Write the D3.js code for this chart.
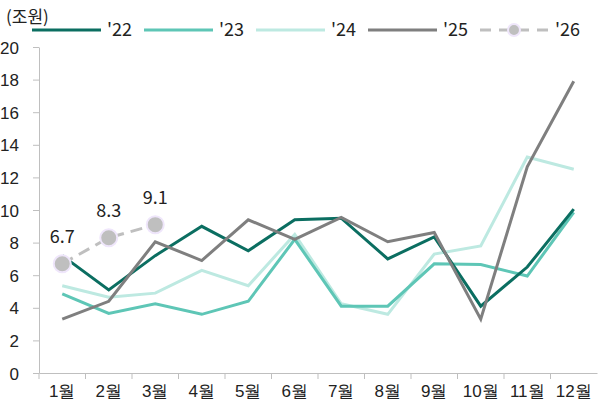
<!DOCTYPE html>
<html>
<head>
<meta charset="utf-8">
<script src="https://cdn.jsdelivr.net/npm/d3@7"></script>
<style>
  body { margin: 0; background: #fff; }
  svg { font-family: "Noto Sans CJK KR", "Noto Sans", sans-serif; }
  .axis path, .axis line { stroke: #bfbfbf; }
  .axis text { font-size: 17px; fill: #222; }
</style>
</head>
<body>
<svg width="598" height="412"></svg>
<script>
let width = 598, height = 412,
    margin = ({ top: 47, right: 1, bottom: 39, left: 39 });

// data (조원)
const months = ["1월","2월","3월","4월","5월","6월","7월","8월","9월","10월","11월","12월"];
const yearKeys = ["'22","'23","'24","'25","'26"];
const v22 = [7.2, 5.1, 7.2, 9.0, 7.5, 9.4, 9.5, 7.0, 8.35, 4.1, 6.5, 10.05];
const v23 = [4.85, 3.65, 4.25, 3.6, 4.4, 8.2, 4.1, 4.1, 6.7, 6.65, 5.95, 9.85];
const v24 = [5.35, 4.65, 4.9, 6.3, 5.35, 8.5, 4.25, 3.6, 7.3, 7.8, 13.25, 12.5];
const v25 = [3.3, 4.4, 8.05, 6.9, 9.4, 8.2, 9.55, 8.05, 8.62, 3.3, 12.65, 17.9];
const v26 = [6.7, 8.3, 9.1];
const colors = ["#0b6e61", "#5ec6b6", "#bde9e1", "#7f7f7f", "#bfbfbf"];

const series = [v22, v23, v24, v25, v26];

const svg = d3.select("svg");

const xScale = d3.scaleBand()
  .domain(months)
  .range([margin.left, width - margin.right]);

const yScale = d3.scaleLinear()
  .domain([0, 20])
  .range([height - margin.bottom, margin.top]);

// axes
svg.append("g")
  .attr("class", "axis")
  .attr("transform", `translate(${margin.left},0)`)
  .call(d3.axisLeft(yScale).tickValues(d3.range(0, 21, 2)).tickSize(6).tickPadding(14).tickSizeOuter(0))
  .call(g => g.selectAll("text").attr("dy", "0.36em"));

const xAxis = svg.append("g")
  .attr("class", "axis")
  .attr("transform", `translate(0,${height - margin.bottom})`)
  .call(d3.axisBottom(xScale).tickSize(0).tickPadding(12));
// ticks between categories
xAxis.selectAll(".sep")
  .data(d3.range(0, months.length))
  .join("line")
  .attr("class", "sep")
  .attr("x1", i => margin.left + i * xScale.step())
  .attr("x2", i => margin.left + i * xScale.step())
  .attr("y1", 0).attr("y2", 6)
  .attr("stroke", "#bfbfbf");
xAxis.selectAll("text").attr("dy", "0.71em");

const cx = i => xScale(months[i]) + xScale.bandwidth() / 2;

const line = d3.line()
  .x((d, i) => cx(i))
  .y(d => yScale(d));

// draw in order: light ones first
const drawOrder = [2, 1, 0, 3];
drawOrder.forEach(k => {
  svg.append("path")
    .datum(series[k])
    .attr("fill", "none")
    .attr("stroke", colors[k])
    .attr("stroke-width", 3)
    .attr("stroke-linejoin", "miter")
    .attr("d", line);
});

// '26 dashed with markers
svg.append("path")
  .datum(v26)
  .attr("fill", "none")
  .attr("stroke", colors[4])
  .attr("stroke-width", 3)
  .attr("stroke-dasharray", "12,7")
  .attr("d", line);

svg.selectAll(".m26")
  .data(v26)
  .join("circle")
  .attr("class", "m26")
  .attr("cx", (d, i) => cx(i))
  .attr("cy", d => yScale(d))
  .attr("r", 8.5)
  .attr("fill", "#bfbfbf")
  .attr("stroke", "#efe6fb")
  .attr("stroke-width", 2);

svg.selectAll(".l26")
  .data(v26)
  .join("text")
  .attr("class", "l26")
  .attr("x", (d, i) => cx(i))
  .attr("y", d => yScale(d) - 21)
  .attr("text-anchor", "middle")
  .attr("font-size", 18)
  .attr("fill", "#222")
  .text(d => d.toFixed(1));

// unit + legend
svg.append("text")
  .attr("x", 6)
  .attr("y", 23)
  .attr("font-size", 17)
  .attr("fill", "#222")
  .text("(조원)");

const legend = svg.append("g").attr("transform", "translate(32,30)");
yearKeys.forEach((key, k) => {
  const g = legend.append("g").attr("transform", `translate(${k * 112},0)`);
  g.append("line")
    .attr("x1", 0).attr("x2", 69)
    .attr("stroke", colors[k])
    .attr("stroke-width", 3)
    .attr("stroke-dasharray", k === 4 ? "11,8" : null);
  if (k === 4) {
    g.append("circle").attr("cx", 34).attr("r", 6)
      .attr("fill", "#bfbfbf").attr("stroke", "#efe6fb").attr("stroke-width", 2);
  }
  g.append("text")
    .attr("x", 75)
    .attr("y", 0)
    .attr("dy", "0.36em")
    .attr("font-size", 18)
    .attr("fill", "#222")
    .text(key);
});
</script>
</body>
</html>
